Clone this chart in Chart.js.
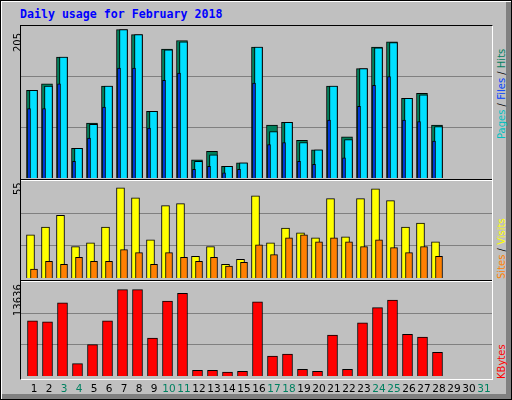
<!DOCTYPE html>
<html>
<head>
<meta charset="utf-8">
<script src="https://cdn.jsdelivr.net/npm/chart.js@4"></script>
<style>
  body { margin:0; background:#fff; }
  #wrap { position:relative; width:510px; height:398px; background:#c0c0c0; border:1px solid #000;
          box-shadow: inset 1px 1px 0 #fff, inset -5px -5px 0 #808080; font-family:'DejaVu Sans Mono', monospace; }
  #frame { position:absolute; left:19px; top:24px; width:471px; height:353px;
           border-left:1px solid #000; border-top:1px solid #000; border-right:1px solid #fff; border-bottom:1px solid #fff; }
  .sep { position:absolute; left:20px; width:471px; height:1px; background:#000; border-bottom:1px solid #fff; }
  .c { position:absolute; left:20px; width:471px; }
  #title { position:absolute; left:19px; top:6px; color:#0000ff; font-weight:bold; font-size:11.6px; }
  .vl { position:absolute; transform-origin:0 0; transform:rotate(-90deg); white-space:nowrap; font-size:10px; font-family:'DejaVu Sans', sans-serif; }
</style>
</head>
<body>
<div id="wrap">
  <div id="title">Daily usage for February 2018</div>
  <div id="frame"></div>
  <div class="sep" style="top:178px"></div>
  <div class="sep" style="top:279px"></div>
  <div class="c" style="top:25px;height:152px"><canvas id="c1"></canvas></div>
  <div class="c" style="top:180px;height:97px"><canvas id="c2"></canvas></div>
  <div class="c" style="top:281px;height:119px"><canvas id="c3"></canvas></div>
  <div class="vl" style="left:11px;top:51px;">205</div>
  <div class="vl" style="left:11px;top:194px;">55</div>
  <div class="vl" style="left:11px;top:315px;">13636</div>
  <div class="vl" style="left:495px;top:138px;"><span style="color:#00c0c0">Pages</span> / <span style="color:#0040ff">Files</span> / <span style="color:#008060">Hits</span></div>
  <div class="vl" style="left:495px;top:278px;"><span style="color:#ff8000">Sites</span> / <span style="color:#ffff00">Visits</span></div>
  <div class="vl" style="left:495px;top:378px;"><span style="color:#ff0000">KBytes</span></div>
</div>
<script>
const days = Array.from({length: 31}, (_, i) => i + 1);
const weekendDays = [3, 4, 10, 11, 17, 18, 24, 25, 31];
const hits   = [121,130,167,41,76,127,205,198,92,178,190,25,37,16,21,181,73,77,52,39,127,57,151,181,188,110,117,73];
const files  = [121,127,167,41,74,127,205,198,92,177,188,23,32,16,21,181,64,77,49,39,127,53,151,180,187,110,115,71];
const pages  = [96,96,130,23,55,98,152,152,69,135,145,12,16,7,12,131,46,49,23,19,80,28,99,128,140,80,78,51];
const visits = [26.3,31.1,38.3,19.1,21.5,31.1,55,49,23.3,44.2,45.4,13.2,19.1,8.4,11.4,50.2,21.5,30.5,27.5,24.5,48.4,25.1,48.4,54.4,47.2,31.1,33.5,22.1];
const sites  = [5.4,10.2,8.4,12.6,10.2,10.2,17.3,15.5,8.4,15.5,12.6,10.2,12.6,7.2,9.6,20.3,14.3,24.5,26.3,22.1,24.5,22.1,19.1,23.3,18.5,15.5,19.1,13.2];
const kbytes = [8691,8541,11538,1948,4945,8691,13636,13636,5994,11838,13037,899,899,599,749,11688,3147,3447,1049,749,6444,1049,8392,10789,11988,6593,6144,3746];

const SPAN = 31.4;
function pts(arr) { return arr.map((v, i) => ({x: i + 1, y: v})); }
function xAxis(min) { return { type:'linear', display:false, offset:false, min:min, max:min + SPAN }; }
function yAxis(max) {
  return {
    min:0, max:max, border:{display:false},
    ticks:{display:false, padding:0}, grid:{color:'#808080', drawTicks:false, tickLength:0},
    afterBuildTicks: s => { s.ticks = [{value:max/3},{value:2*max/3}]; },
    afterFit: s => { s.width = 0; }
  };
}
function bar(data, color, xid, thick, order) {
  return { data: pts(data), backgroundColor: color, borderColor:'#000', borderWidth:1,
           borderSkipped:'bottom', xAxisID: xid, barThickness: thick, grouped:false, order: order };
}
const base = {
  responsive:true, maintainAspectRatio:false, animation:false,
  layout:{padding:0},
  plugins:{legend:{display:false}, tooltip:{enabled:false}}
};

new Chart(document.getElementById('c1'), {
  type:'bar',
  data:{ datasets:[
    bar(hits, '#00805c', 'xh', 11, 3),
    bar(files, '#00e0ff', 'xf', 8, 2),
    bar(pages, '#0040ff', 'xp', 3, 1)
  ]},
  options:{ ...base, scales:{ xh:xAxis(0.267), xf:xAxis(0.167), xp:xAxis(0.467), y:yAxis(210) } }
});

new Chart(document.getElementById('c2'), {
  type:'bar',
  data:{ datasets:[
    bar(visits, '#ffff00', 'xv', 8, 2),
    bar(sites, '#ff8000', 'xs', 7, 1)
  ]},
  options:{ ...base, scales:{ xv:xAxis(0.367), xs:xAxis(0.133), y:yAxis(59.2) } }
});

const dayLabels = {
  id:'dayLabels',
  afterDraw(chart) {
    const ctx = chart.ctx, sc = chart.scales.xk;
    ctx.save();
    ctx.font = '10.5px "DejaVu Sans"';
    ctx.textAlign = 'center';
    ctx.textBaseline = 'middle';
    days.forEach(d => {
      ctx.fillStyle = weekendDays.includes(d) ? '#008060' : '#000';
      ctx.fillText(String(d), sc.getPixelForValue(d) + 1.5, chart.chartArea.bottom + 13);
    });
    ctx.restore();
  }
};

new Chart(document.getElementById('c3'), {
  type:'bar',
  data:{ datasets:[ bar(kbytes, '#ff0000', 'xk', 10, 1) ]},
  options:{ ...base, layout:{padding:{bottom:25}}, scales:{ xk:xAxis(0.233), y:yAxis(14835) } },
  plugins:[dayLabels]
});
</script>
</body>
</html>
